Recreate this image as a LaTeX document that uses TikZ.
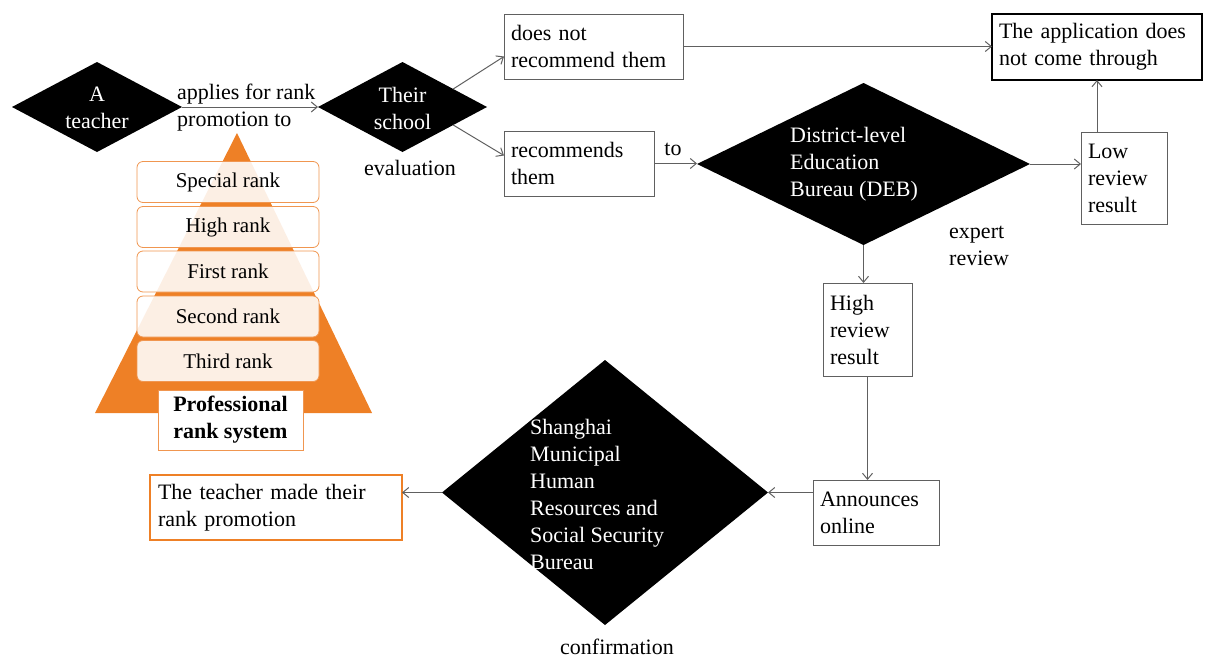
\documentclass[tikz,border=0pt]{standalone}
\usepackage{fontspec}
\setmainfont{Liberation Serif}
\usetikzlibrary{shapes.geometric,arrows.meta,calc}

\definecolor{linegray}{RGB}{96,96,96}
\definecolor{rankorange}{RGB}{238,128,38}
\definecolor{rankedge}{RGB}{240,150,80}

\tikzset{
  txt/.style={font=\fontsize{22}{27}\selectfont, inner sep=0pt},
  dmd/.style={diamond, fill=black, draw=none, inner sep=0pt, outer sep=0pt},
  dmdtext/.style={txt, text=white, align=left},
  flowbox/.style={txt, draw=linegray, line width=1pt, fill=white, align=left,
    inner xsep=7pt, inner ysep=0pt, outer sep=0pt},
  conn/.style={draw=linegray, line width=1pt, -{Straight Barb[length=6pt,width=10pt]}},
  rankbox/.style={txt, font=\fontsize{21}{26}\selectfont, draw=rankedge, line width=0.8pt,
    rounded corners=6pt, fill=white, fill opacity=0.88, text opacity=1,
    minimum width=182pt, minimum height=41pt},
}

\begin{document}
\begin{tikzpicture}[x=1pt, y=-1pt]
\useasboundingbox (0,0) rectangle (1206,659);

% ---------- professional rank pyramid ----------
\coordinate (apex) at (237,133);
\coordinate (baseL) at (95,413);
\coordinate (baseR) at (372,413);
\fill[rankorange] (apex) -- (baseR) -- (baseL) -- cycle;
\node[rankbox] (special) at (228,182) {Special rank};
\node[rankbox] (highr)   at (228,227) {High rank};
\node[rankbox] (firstr)  at (228,271.5) {First rank};
\node[rankbox] (secondr) at (228,316.5) {Second rank};
\node[rankbox] (thirdr)  at (228,361) {Third rank};
\node[txt, draw=rankedge, line width=0.8pt, fill=white, align=left,
      minimum width=145pt, minimum height=60pt, font=\fontsize{22}{27}\selectfont\bfseries]
      (system) at (230.5,420) {Professional\\rank system};

% ---------- decision diamonds ----------
\node[dmd, minimum width=170pt, minimum height=90pt] (teacher) at (97,107) {};
\node[dmdtext, align=center] (teachertxt) at (97,108) {A\\teacher};

\node[dmd, minimum width=169pt, minimum height=90pt] (school) at (402.5,107) {};
\node[dmdtext, align=center] (schooltxt) at (402.5,108) {Their\\school};

\node[dmd, minimum width=333pt, minimum height=162pt] (deb) at (863.5,164) {};
\node[dmdtext, anchor=west] (debtxt) at (790,164) {District-level\\Education\\Bureau (DEB)};

\node[dmd, minimum width=326pt, minimum height=265pt] (hrss) at (605,492.5) {};
\node[dmdtext, anchor=west] (hrsstxt) at (530,494)
  {Shanghai\\Municipal\\Human\\Resources and\\Social Security\\Bureau};

% ---------- boxes ----------
\node[flowbox, minimum width=179pt, minimum height=65pt, text width=165pt]
  (notrec) at (593.5,46.5) {does not\\recommend them};
\node[flowbox, line width=2.6pt, draw=black, minimum width=210pt, minimum height=66pt, text width=196pt]
  (fail) at (1097,47) {The application does\\not come through};
\node[flowbox, minimum width=150pt, minimum height=65pt, text width=136pt]
  (rec) at (579,163.5) {recommends\\them};
\node[flowbox, minimum width=86pt, minimum height=92pt, text width=72pt]
  (low) at (1124,178) {Low\\review\\result};
\node[flowbox, minimum width=89pt, minimum height=93pt, text width=75pt]
  (high) at (867.5,329.5) {High\\review\\result};
\node[flowbox, minimum width=126pt, minimum height=65pt, text width=112pt]
  (announce) at (876,512.5) {Announces\\online};
\node[flowbox, draw=rankorange, line width=2.6pt, minimum width=252pt, minimum height=65pt, text width=236pt]
  (made) at (276,507.5) {The teacher made their\\rank promotion};

% ---------- free labels ----------
\node[txt, anchor=west, align=left] (applies) at (177,108) {applies for rank\\promotion to};
\node[txt] (evaluation) at (410,168) {evaluation};
\node[txt] (tolbl) at (673,149) {to};
\node[txt, anchor=west, align=left] (expert) at (949,246) {expert\\review};
\node[txt] (confirm) at (617,647) {confirmation};

% ---------- connectors ----------
\draw[conn] (teacher.east) -- (school.west);
\draw[conn] ($(school.east)!0.4!(school.north)$) -- ([yshift=-10pt]notrec.west);
\draw[conn] ($(school.east)!0.4!(school.south)$) -- ([yshift=8pt]rec.west);
\draw[conn] (notrec.east) -- (notrec.east -| fail.west);
\draw[conn] (rec.east) -- (rec.east -| deb.west);
\draw[conn] (deb.east) -- (deb.east -| low.west);
\draw[conn] (low.north -| fail.south) -- (fail.south);
\draw[conn] (deb.south) -- (deb.south |- high.north);
\draw[conn] (high.south) -- (high.south |- announce.north);
\draw[conn] (hrss.east -| announce.west) -- (hrss.east);
\draw[conn] (hrss.west) -- (hrss.west -| made.east);
\end{tikzpicture}
\end{document}
